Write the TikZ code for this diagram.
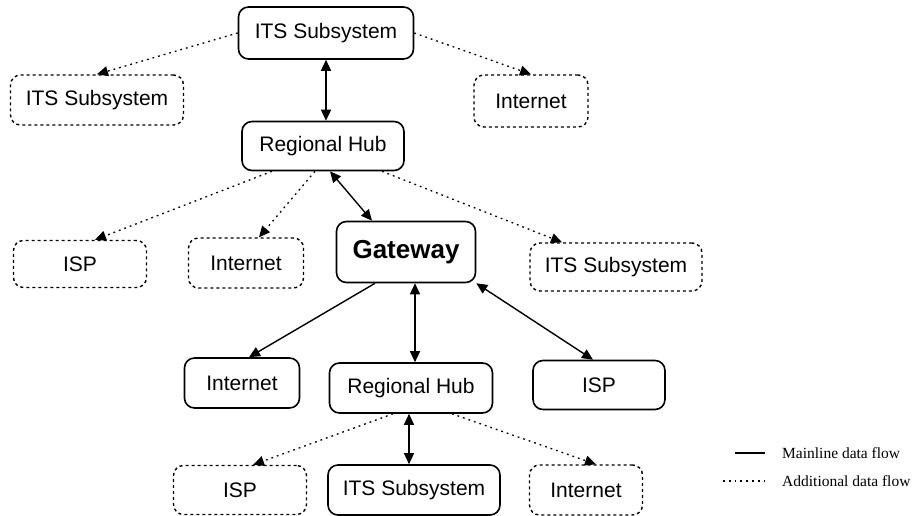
\documentclass[tikz,border=0pt]{standalone}
\usepackage{fontspec}
\setmainfont{Liberation Sans}
\newfontfamily\legendfont{Liberation Serif}
\usetikzlibrary{arrows.meta}
\begin{document}
\begin{tikzpicture}[x=1pt,y=-1pt,
  box/.style={draw, line width=1.6pt, rounded corners=10pt, align=center,
    inner sep=0pt, font=\fontsize{21}{25}\selectfont},
  dbox/.style={box, line width=1.4pt, dash pattern=on 3pt off 3pt},
  tip/.style={-{Triangle[length=11pt,width=10pt]}},
  main/.style={line width=1.4pt, tip},
  both/.style={line width=1.4pt, {Triangle[length=11pt,width=10pt]}-{Triangle[length=11pt,width=10pt]}},
  addl/.style={line width=1.3pt, dash pattern=on 1.8pt off 4pt, tip},
  legtext/.style={anchor=west, inner sep=0pt, font=\legendfont\fontsize{15.5}{18}\selectfont}]
\useasboundingbox (0,0) rectangle (914,516);

% nodes
\node[box,  minimum width=175pt, minimum height=52pt] (its1) at (326,33)  {ITS Subsystem};
\node[dbox, minimum width=173pt, minimum height=50pt] (its2) at (97,100)  {ITS Subsystem};
\node[dbox, minimum width=114pt, minimum height=52pt] (net1) at (531,101) {Internet};
\node[box,  minimum width=162pt, minimum height=49pt] (hub1) at (323,146) {Regional Hub};
\node[dbox, minimum width=133pt, minimum height=47pt] (isp1) at (80,264)  {ISP};
\node[dbox, minimum width=115pt, minimum height=50pt] (net2) at (246,263) {Internet};
\node[box,  minimum width=139pt, minimum height=61pt, font=\fontsize{26}{30}\selectfont\bfseries] (gw) at (406,252) {Gateway};
\node[dbox, minimum width=172pt, minimum height=48pt] (its3) at (616,267) {ITS Subsystem};
\node[box,  minimum width=115pt, minimum height=50pt] (net3) at (242,383) {Internet};
\node[box,  minimum width=163pt, minimum height=50pt] (hub2) at (411,388) {Regional Hub};
\node[box,  minimum width=132pt, minimum height=49pt] (isp2) at (599,385) {ISP};
\node[dbox, minimum width=133pt, minimum height=49pt] (isp3) at (240,490) {ISP};
\node[box,  minimum width=172pt, minimum height=50pt] (its4) at (414,490) {ITS Subsystem};
\node[dbox, minimum width=113pt, minimum height=50pt] (net4) at (586,490) {Internet};

% top subsystem
\draw[both] (its1.south) -- (its1.south |- hub1.north);
\draw[addl] (its1.west) -- (its2.north);
\draw[addl] (its1.east) -- (net1.north);

% upper regional hub
\draw[addl] ([xshift=-51pt]hub1.south) -- ([xshift=15pt]isp1.north);
\draw[addl] ([xshift=-8pt]hub1.south) -- ([xshift=13pt]net2.north);
\draw[both] ([xshift=7pt]hub1.south) -- ([xshift=-34pt]gw.north);
\draw[addl] ([xshift=59pt]hub1.south) -- ([xshift=-54pt]its3.north);

% gateway
\draw[main] ([xshift=-31pt]gw.south) -- ([xshift=7pt]net3.north);
\draw[both] ([xshift=9pt]gw.south) -- ([xshift=9pt]gw.south |- hub2.north);
\draw[both] (gw.south east) -- ([xshift=-6pt]isp2.north);

% lower regional hub
\draw[addl] ([xshift=-18pt]hub2.south) -- ([xshift=13pt]isp3.north);
\draw[both] ([xshift=-2pt]hub2.south) -- ([xshift=-2pt]hub2.south |- its4.north);
\draw[addl] ([xshift=41pt]hub2.south) -- ([xshift=10pt]net4.north);

% legend
\coordinate (la) at (735,453);
\coordinate (lb) at (765,453);
\coordinate (lc) at (723,481);
\coordinate (ld) at (765,481);
\draw[line width=1.3pt] (la) -- (lb);
\draw[line width=1.3pt, dash pattern=on 1.8pt off 4pt] (lc) -- (ld);
\node[legtext] (ltx1) at (782,453) {Mainline data flow};
\node[legtext] (ltx2) at (782,481) {Additional data flow};
\end{tikzpicture}
\end{document}
